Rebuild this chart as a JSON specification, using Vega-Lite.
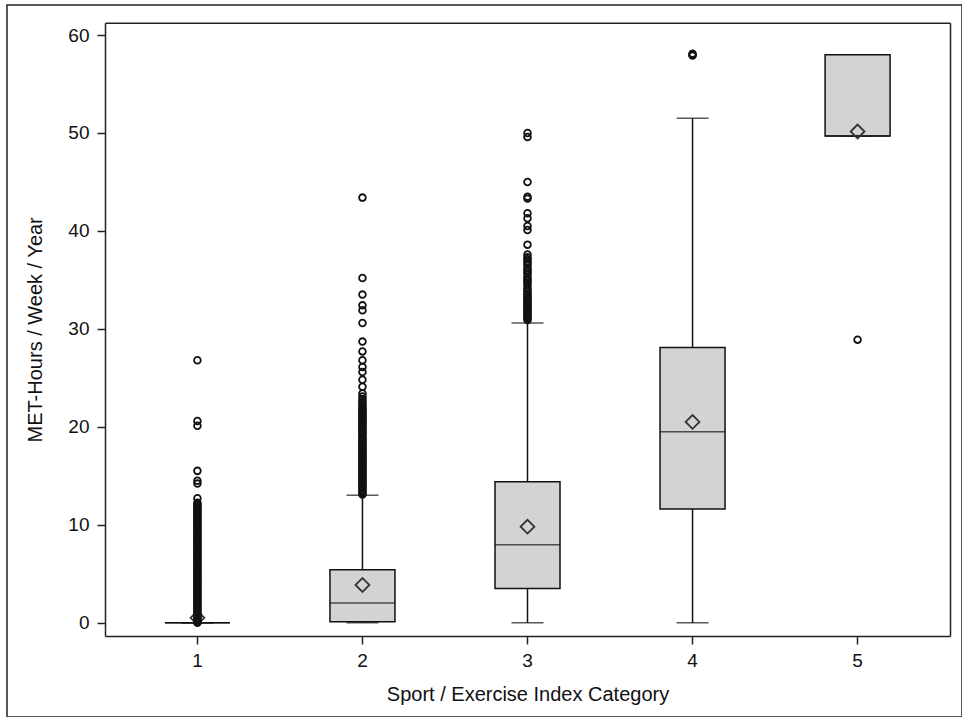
{
  "$schema": "https://vega.github.io/schema/vega-lite/v6.json",
  "width": 955,
  "height": 712,
  "autosize": "none",
  "padding": {"left": 7, "top": 5, "right": 0, "bottom": 0},
  "background": "white",
  "config": {
    "view": {"stroke": "#222", "strokeWidth": 1.5},
    "axis": {
      "labelFont": "Liberation Sans", "titleFont": "Liberation Sans",
      "labelFontSize": 19, "titleFontSize": 20, "titleFontWeight": "normal",
      "labelColor": "#111", "titleColor": "#111",
      "domainColor": "#222", "domainWidth": 1.5,
      "tickColor": "#222", "tickWidth": 1.5, "tickSize": 8, "grid": false
    }
  },
  "datasets": {
    "stats": [
      {"cat": 1, "lo": 0, "q1": 0, "med": 0, "q3": 0, "hi": 0, "mean": 0.5},
      {"cat": 2, "lo": 0, "q1": 0.1, "med": 2.0, "q3": 5.4, "hi": 13.0, "mean": 3.85},
      {"cat": 3, "lo": 0, "q1": 3.5, "med": 7.95, "q3": 14.4, "hi": 30.6, "mean": 9.8},
      {"cat": 4, "lo": 0, "q1": 11.6, "med": 19.5, "q3": 28.1, "hi": 51.5, "mean": 20.5},
      {"cat": 5, "lo": 49.7, "q1": 49.7, "med": 49.7, "q3": 58.0, "hi": 58.0, "mean": 50.15}
    ],
    "outliers": [
      {"cat": 1, "v": 0.0}, {"cat": 1, "v": 0.1}, {"cat": 1, "v": 0.25}, {"cat": 1, "v": 0.4}, {"cat": 1, "v": 0.5},
      {"cat": 1, "v": 0.65}, {"cat": 1, "v": 0.8}, {"cat": 1, "v": 0.95}, {"cat": 1, "v": 1.1}, {"cat": 1, "v": 1.25},
      {"cat": 1, "v": 1.4}, {"cat": 1, "v": 1.55}, {"cat": 1, "v": 1.7}, {"cat": 1, "v": 1.85}, {"cat": 1, "v": 2.0},
      {"cat": 1, "v": 2.15}, {"cat": 1, "v": 2.3}, {"cat": 1, "v": 2.45}, {"cat": 1, "v": 2.6}, {"cat": 1, "v": 2.75},
      {"cat": 1, "v": 2.9}, {"cat": 1, "v": 3.05}, {"cat": 1, "v": 3.2}, {"cat": 1, "v": 3.35}, {"cat": 1, "v": 3.5},
      {"cat": 1, "v": 3.65}, {"cat": 1, "v": 3.8}, {"cat": 1, "v": 3.95}, {"cat": 1, "v": 4.1}, {"cat": 1, "v": 4.25},
      {"cat": 1, "v": 4.4}, {"cat": 1, "v": 4.55}, {"cat": 1, "v": 4.7}, {"cat": 1, "v": 4.85}, {"cat": 1, "v": 5.0},
      {"cat": 1, "v": 5.15}, {"cat": 1, "v": 5.3}, {"cat": 1, "v": 5.45}, {"cat": 1, "v": 5.6}, {"cat": 1, "v": 5.75},
      {"cat": 1, "v": 5.9}, {"cat": 1, "v": 6.05}, {"cat": 1, "v": 6.2}, {"cat": 1, "v": 6.35}, {"cat": 1, "v": 6.5},
      {"cat": 1, "v": 6.65}, {"cat": 1, "v": 6.8}, {"cat": 1, "v": 6.95}, {"cat": 1, "v": 7.1}, {"cat": 1, "v": 7.25},
      {"cat": 1, "v": 7.4}, {"cat": 1, "v": 7.55}, {"cat": 1, "v": 7.7}, {"cat": 1, "v": 7.85}, {"cat": 1, "v": 8.0},
      {"cat": 1, "v": 8.15}, {"cat": 1, "v": 8.3}, {"cat": 1, "v": 8.45}, {"cat": 1, "v": 8.6}, {"cat": 1, "v": 8.75},
      {"cat": 1, "v": 8.9}, {"cat": 1, "v": 9.05}, {"cat": 1, "v": 9.2}, {"cat": 1, "v": 9.35}, {"cat": 1, "v": 9.5},
      {"cat": 1, "v": 9.7}, {"cat": 1, "v": 9.85}, {"cat": 1, "v": 10.0}, {"cat": 1, "v": 10.15}, {"cat": 1, "v": 10.3},
      {"cat": 1, "v": 10.45}, {"cat": 1, "v": 10.6}, {"cat": 1, "v": 10.75}, {"cat": 1, "v": 10.9}, {"cat": 1, "v": 11.05},
      {"cat": 1, "v": 11.2}, {"cat": 1, "v": 11.35}, {"cat": 1, "v": 11.5}, {"cat": 1, "v": 11.65}, {"cat": 1, "v": 11.8},
      {"cat": 1, "v": 11.95}, {"cat": 1, "v": 12.1}, {"cat": 1, "v": 12.25}, {"cat": 1, "v": 12.7}, {"cat": 1, "v": 14.2},
      {"cat": 1, "v": 14.5}, {"cat": 1, "v": 15.5}, {"cat": 1, "v": 20.1}, {"cat": 1, "v": 20.6}, {"cat": 1, "v": 26.8},

      {"cat": 2, "v": 13.1}, {"cat": 2, "v": 13.25}, {"cat": 2, "v": 13.4}, {"cat": 2, "v": 13.55}, {"cat": 2, "v": 13.7},
      {"cat": 2, "v": 13.85}, {"cat": 2, "v": 14.0}, {"cat": 2, "v": 14.15}, {"cat": 2, "v": 14.3}, {"cat": 2, "v": 14.45},
      {"cat": 2, "v": 14.6}, {"cat": 2, "v": 14.75}, {"cat": 2, "v": 14.9}, {"cat": 2, "v": 15.05}, {"cat": 2, "v": 15.2},
      {"cat": 2, "v": 15.35}, {"cat": 2, "v": 15.5}, {"cat": 2, "v": 15.65}, {"cat": 2, "v": 15.8}, {"cat": 2, "v": 15.95},
      {"cat": 2, "v": 16.1}, {"cat": 2, "v": 16.25}, {"cat": 2, "v": 16.4}, {"cat": 2, "v": 16.55}, {"cat": 2, "v": 16.7},
      {"cat": 2, "v": 16.85}, {"cat": 2, "v": 17.0}, {"cat": 2, "v": 17.15}, {"cat": 2, "v": 17.3}, {"cat": 2, "v": 17.45},
      {"cat": 2, "v": 17.6}, {"cat": 2, "v": 17.75}, {"cat": 2, "v": 17.9}, {"cat": 2, "v": 18.1}, {"cat": 2, "v": 18.25},
      {"cat": 2, "v": 18.4}, {"cat": 2, "v": 18.55}, {"cat": 2, "v": 18.7}, {"cat": 2, "v": 18.85}, {"cat": 2, "v": 19.0},
      {"cat": 2, "v": 19.25}, {"cat": 2, "v": 19.4}, {"cat": 2, "v": 19.55}, {"cat": 2, "v": 19.7}, {"cat": 2, "v": 19.85},
      {"cat": 2, "v": 20.05}, {"cat": 2, "v": 20.2}, {"cat": 2, "v": 20.35}, {"cat": 2, "v": 20.5}, {"cat": 2, "v": 20.65},
      {"cat": 2, "v": 20.8}, {"cat": 2, "v": 20.95}, {"cat": 2, "v": 21.1}, {"cat": 2, "v": 21.25}, {"cat": 2, "v": 21.4},
      {"cat": 2, "v": 21.55}, {"cat": 2, "v": 21.7}, {"cat": 2, "v": 21.85}, {"cat": 2, "v": 22.0}, {"cat": 2, "v": 22.2},
      {"cat": 2, "v": 22.4}, {"cat": 2, "v": 22.6}, {"cat": 2, "v": 22.85}, {"cat": 2, "v": 23.1}, {"cat": 2, "v": 23.4},
      {"cat": 2, "v": 24.1}, {"cat": 2, "v": 24.8}, {"cat": 2, "v": 25.6}, {"cat": 2, "v": 26.1}, {"cat": 2, "v": 26.8},
      {"cat": 2, "v": 27.7}, {"cat": 2, "v": 28.7}, {"cat": 2, "v": 30.6}, {"cat": 2, "v": 31.9}, {"cat": 2, "v": 32.4},
      {"cat": 2, "v": 33.5}, {"cat": 2, "v": 35.2}, {"cat": 2, "v": 43.4},

      {"cat": 3, "v": 30.9}, {"cat": 3, "v": 31.05}, {"cat": 3, "v": 31.2}, {"cat": 3, "v": 31.35}, {"cat": 3, "v": 31.5},
      {"cat": 3, "v": 31.65}, {"cat": 3, "v": 31.8}, {"cat": 3, "v": 31.95}, {"cat": 3, "v": 32.1}, {"cat": 3, "v": 32.25},
      {"cat": 3, "v": 32.4}, {"cat": 3, "v": 32.55}, {"cat": 3, "v": 32.7}, {"cat": 3, "v": 32.85}, {"cat": 3, "v": 33.0},
      {"cat": 3, "v": 33.15}, {"cat": 3, "v": 33.3}, {"cat": 3, "v": 33.45}, {"cat": 3, "v": 33.6}, {"cat": 3, "v": 33.8},
      {"cat": 3, "v": 34.0}, {"cat": 3, "v": 34.2}, {"cat": 3, "v": 34.5}, {"cat": 3, "v": 34.7}, {"cat": 3, "v": 34.9},
      {"cat": 3, "v": 35.1}, {"cat": 3, "v": 35.3}, {"cat": 3, "v": 35.6}, {"cat": 3, "v": 35.8}, {"cat": 3, "v": 36.0},
      {"cat": 3, "v": 36.2}, {"cat": 3, "v": 36.5}, {"cat": 3, "v": 36.7}, {"cat": 3, "v": 36.9}, {"cat": 3, "v": 37.1},
      {"cat": 3, "v": 37.3}, {"cat": 3, "v": 37.6}, {"cat": 3, "v": 38.6}, {"cat": 3, "v": 40.1}, {"cat": 3, "v": 40.5},
      {"cat": 3, "v": 41.3}, {"cat": 3, "v": 41.8}, {"cat": 3, "v": 43.3}, {"cat": 3, "v": 43.5}, {"cat": 3, "v": 45.0},
      {"cat": 3, "v": 49.6}, {"cat": 3, "v": 50.0},

      {"cat": 4, "v": 57.9}, {"cat": 4, "v": 58.0}, {"cat": 4, "v": 58.1},
      {"cat": 5, "v": 28.9}
    ]
  },
  "layer": [
    {
      "data": {"name": "stats"},
      "mark": {"type": "rule", "color": "#111", "strokeWidth": 1.5},
      "encoding": {
        "x": {
          "field": "cat", "type": "ordinal",
          "scale": {"type": "band", "range": [98, 943], "paddingInner": 0, "paddingOuter": 0.06},
          "axis": {"orient": "bottom", "offset": -81, "labelAngle": 0, "labelPadding": 7,
                   "title": "Sport / Exercise Index Category", "titlePadding": 14}
        },
        "y": {
          "field": "lo", "type": "quantitative",
          "scale": {"domain": [-1.36, 61.26], "range": [631, 17.7], "nice": false, "zero": false},
          "axis": {"orient": "left", "offset": -98, "values": [0, 10, 20, 30, 40, 50, 60],
                   "labelPadding": 8, "title": "MET-Hours / Week / Year", "titlePadding": 22}
        },
        "y2": {"field": "hi"}
      }
    },
    {
      "data": {"name": "stats"},
      "mark": {"type": "tick", "color": "#111", "thickness": 1.5, "size": 32},
      "encoding": {
        "x": {"field": "cat", "type": "ordinal", "axis": null},
        "y": {"field": "lo", "type": "quantitative", "axis": null}
      }
    },
    {
      "data": {"name": "stats"},
      "mark": {"type": "tick", "color": "#111", "thickness": 1.5, "size": 32},
      "encoding": {
        "x": {"field": "cat", "type": "ordinal", "axis": null},
        "y": {"field": "hi", "type": "quantitative", "axis": null}
      }
    },
    {
      "data": {"name": "stats"},
      "mark": {"type": "bar", "size": 65, "fill": "#d3d3d3", "stroke": "#111", "strokeWidth": 1.5},
      "encoding": {
        "x": {"field": "cat", "type": "ordinal",
              "axis": {"orient": "top", "offset": -17.7, "labels": false, "ticks": false, "title": null, "domain": true}},
        "y": {"field": "q1", "type": "quantitative",
              "axis": {"orient": "right", "offset": -12, "labels": false, "ticks": false, "title": null, "domain": true}},
        "y2": {"field": "q3"}
      }
    },
    {
      "data": {"name": "stats"},
      "mark": {"type": "tick", "color": "#111", "thickness": 1.5, "size": 65},
      "encoding": {
        "x": {"field": "cat", "type": "ordinal", "axis": null},
        "y": {"field": "med", "type": "quantitative", "axis": null}
      }
    },
    {
      "data": {"name": "stats"},
      "mark": {"type": "point", "shape": "diamond", "filled": false, "stroke": "#333", "strokeWidth": 1.8, "size": 190, "opacity": 1},
      "encoding": {
        "x": {"field": "cat", "type": "ordinal", "axis": null},
        "y": {"field": "mean", "type": "quantitative", "axis": null}
      }
    },
    {
      "data": {"name": "outliers"},
      "mark": {"type": "point", "shape": "circle", "filled": false, "stroke": "#111", "strokeWidth": 1.8, "size": 45, "opacity": 1},
      "encoding": {
        "x": {"field": "cat", "type": "ordinal", "axis": null},
        "y": {"field": "v", "type": "quantitative", "axis": null}
      }
    }
  ],
  "resolve": {"axis": {"x": "independent", "y": "independent"}}
}
